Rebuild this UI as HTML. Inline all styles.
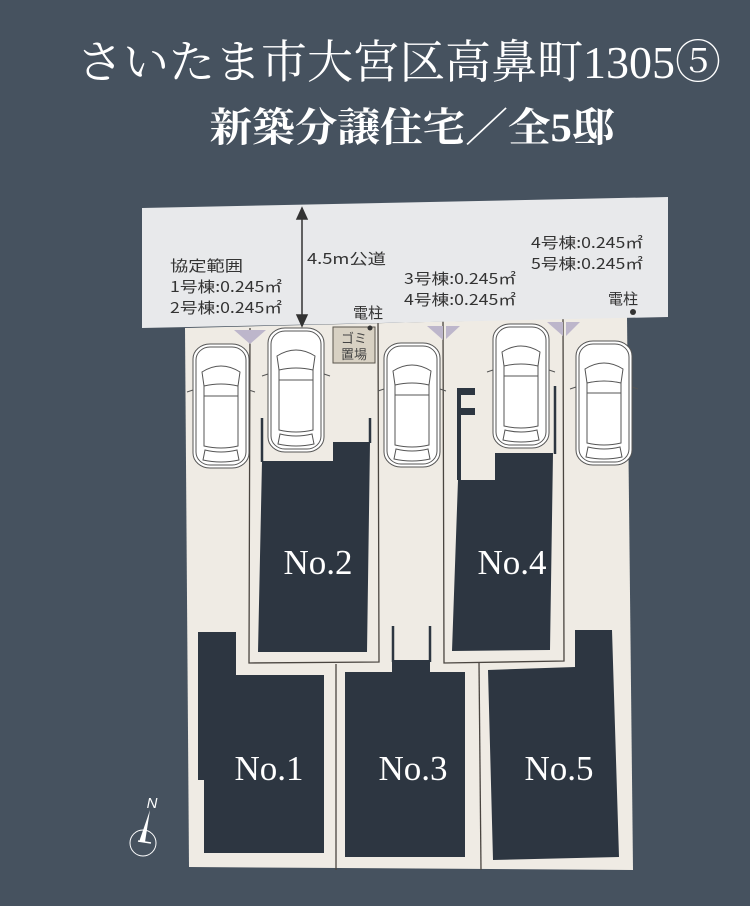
<!DOCTYPE html>
<html><head><meta charset="utf-8"><style>
html,body{margin:0;padding:0;background:#46525f;}
svg{display:block;}
</style></head><body>
<svg width="750" height="906" viewBox="0 0 750 906" xmlns="http://www.w3.org/2000/svg">
<defs>
<g id="car" fill="#fff" stroke="#555" stroke-width="1">
  <rect x="0" y="0" width="56" height="124" rx="17" ry="15"/>
  <rect x="3" y="3" width="50" height="118" rx="14" ry="13" fill="none"/>
  <path d="M9 28 Q28 16 47 28 L45 42 Q28 38 11 42 Z" fill="none"/>
  <path d="M11 42 L11 102 Q28 106 45 102 L45 42" fill="none"/>
  <path d="M11 52 L45 52" fill="none"/>
  <path d="M12 106 Q28 110 44 106 L46 116 Q28 120 10 116 Z" fill="none"/>
  <path d="M0 46 L-6 48 M56 46 L62 48" />
</g>
</defs>
<rect width="750" height="906" fill="#46525f"/>
<text x="399" y="78" text-anchor="middle" font-family="Liberation Serif, 'Noto Serif CJK JP', serif" font-size="46" fill="#fff" textLength="644" lengthAdjust="spacingAndGlyphs">さいたま市大宮区高鼻町1305⑤</text>
<text x="412" y="141" text-anchor="middle" font-family="Liberation Serif, 'Noto Serif CJK JP', serif" font-size="40" font-weight="bold" fill="#fff" textLength="405" lengthAdjust="spacingAndGlyphs">新築分譲住宅／全5邸</text>

<polygon points="185,328 627,317 633,870 189,867" fill="#efebe4"/>
<g stroke="#4a4540" stroke-width="1.3" fill="none">
  <polyline points="250,328 249,663 379,662 378,320"/>
  <polyline points="443,319 444,663 564,661 563,317"/>
  <line x1="336" y1="664" x2="336" y2="870"/>
  <line x1="479" y1="662" x2="481" y2="870"/>
</g>
<polygon points="142,208 668,197 668,317 142,328" fill="#e8e9eb"/>
<g fill="#bdb6cb">
  <polygon points="234,330 250,330 250,344"/>
  <polygon points="250,330 266,330 250,344"/>
  <polygon points="427,326 443,326 443,340"/>
  <polygon points="446,326 460,326 446,339"/>
  <polygon points="547,322 563,322 563,336"/>
  <polygon points="566,322 580,322 566,336"/>
</g>
<g fill="#2d3641">
  <polygon points="262,461 333,461 333,442 370,442 367,652 258,652"/>
  <polygon points="458,480 495,480 495,453 553,453 550,650 452,651"/>
  <polygon points="198,632 236,632 236,675 324,675 324,853 204,853 204,780 198,780"/>
  <polygon points="345,672 392,672 392,660 430,660 430,672 465,672 465,857 345,857"/>
  <polygon points="488,670 575,667 575,630 612,630 619,857 493,860"/>
  <rect x="457" y="388" width="4" height="92"/>
  <rect x="457" y="388" width="18" height="7"/>
  <rect x="457" y="408" width="18" height="7"/>
</g>
<g stroke="#2d3641" stroke-width="2.5">
  <line x1="262" y1="418" x2="262" y2="462"/>
  <line x1="370" y1="418" x2="370" y2="443"/>
  <line x1="555" y1="386" x2="555" y2="454"/>
  <line x1="393" y1="626" x2="393" y2="662"/>
  <line x1="430" y1="626" x2="430" y2="662"/>
</g>
<rect x="333" y="327" width="42" height="36" fill="#d8d1c3" stroke="#5a554c" stroke-width="1"/>
<text x="354" y="343" text-anchor="middle" font-family="'Noto Sans CJK JP', sans-serif" font-size="13" fill="#444">ゴミ</text>
<text x="354" y="359" text-anchor="middle" font-family="'Noto Sans CJK JP', sans-serif" font-size="13" fill="#444">置場</text>
<circle cx="370" cy="328" r="2.5" fill="#333"/>
<circle cx="633" cy="312" r="3" fill="#333"/>
<use href="#car" transform="translate(193,344)"/>
<use href="#car" transform="translate(268,328)"/>
<use href="#car" transform="translate(384,343)"/>
<use href="#car" transform="translate(493,324)"/>
<use href="#car" transform="translate(576,341)"/>
<g stroke="#333" stroke-width="1.5" fill="#333">
  <line x1="302" y1="214" x2="302" y2="322"/>
  <polygon points="302,208 297,219 307,219"/>
  <polygon points="302,326 297,315 307,315"/>
</g>
<g font-family="'Noto Sans CJK JP', sans-serif" font-size="15" fill="#333">
  <text x="170" y="271" textLength="73" lengthAdjust="spacingAndGlyphs">協定範囲</text>
  <text x="170" y="292" textLength="112" lengthAdjust="spacingAndGlyphs">1号棟:0.245㎡</text>
  <text x="170" y="313" textLength="112" lengthAdjust="spacingAndGlyphs">2号棟:0.245㎡</text>
  <text x="307" y="264" textLength="79" lengthAdjust="spacingAndGlyphs">4.5m公道</text>
  <text x="353" y="318">電柱</text>
  <text x="404" y="284" textLength="112" lengthAdjust="spacingAndGlyphs">3号棟:0.245㎡</text>
  <text x="404" y="305" textLength="112" lengthAdjust="spacingAndGlyphs">4号棟:0.245㎡</text>
  <text x="531" y="248" textLength="112" lengthAdjust="spacingAndGlyphs">4号棟:0.245㎡</text>
  <text x="531" y="269" textLength="112" lengthAdjust="spacingAndGlyphs">5号棟:0.245㎡</text>
  <text x="608" y="304">電柱</text>
</g>
<g font-family="'Liberation Serif', serif" font-size="35" fill="#fff" text-anchor="middle">
  <text x="318" y="574">No.2</text>
  <text x="512" y="574">No.4</text>
  <text x="269" y="780">No.1</text>
  <text x="413" y="780">No.3</text>
  <text x="559" y="780">No.5</text>
</g>
<circle cx="143" cy="843" r="13" fill="none" stroke="#fff" stroke-width="1"/>
<polygon points="150,810 145,842 139,842" fill="#fff"/>
<line x1="138" y1="841" x2="151" y2="843" stroke="#fff" stroke-width="1.5"/>
<text x="152" y="808" font-family="'Liberation Sans', sans-serif" font-size="15" fill="#fff" text-anchor="middle" font-style="italic">N</text>
</svg>
</body></html>
